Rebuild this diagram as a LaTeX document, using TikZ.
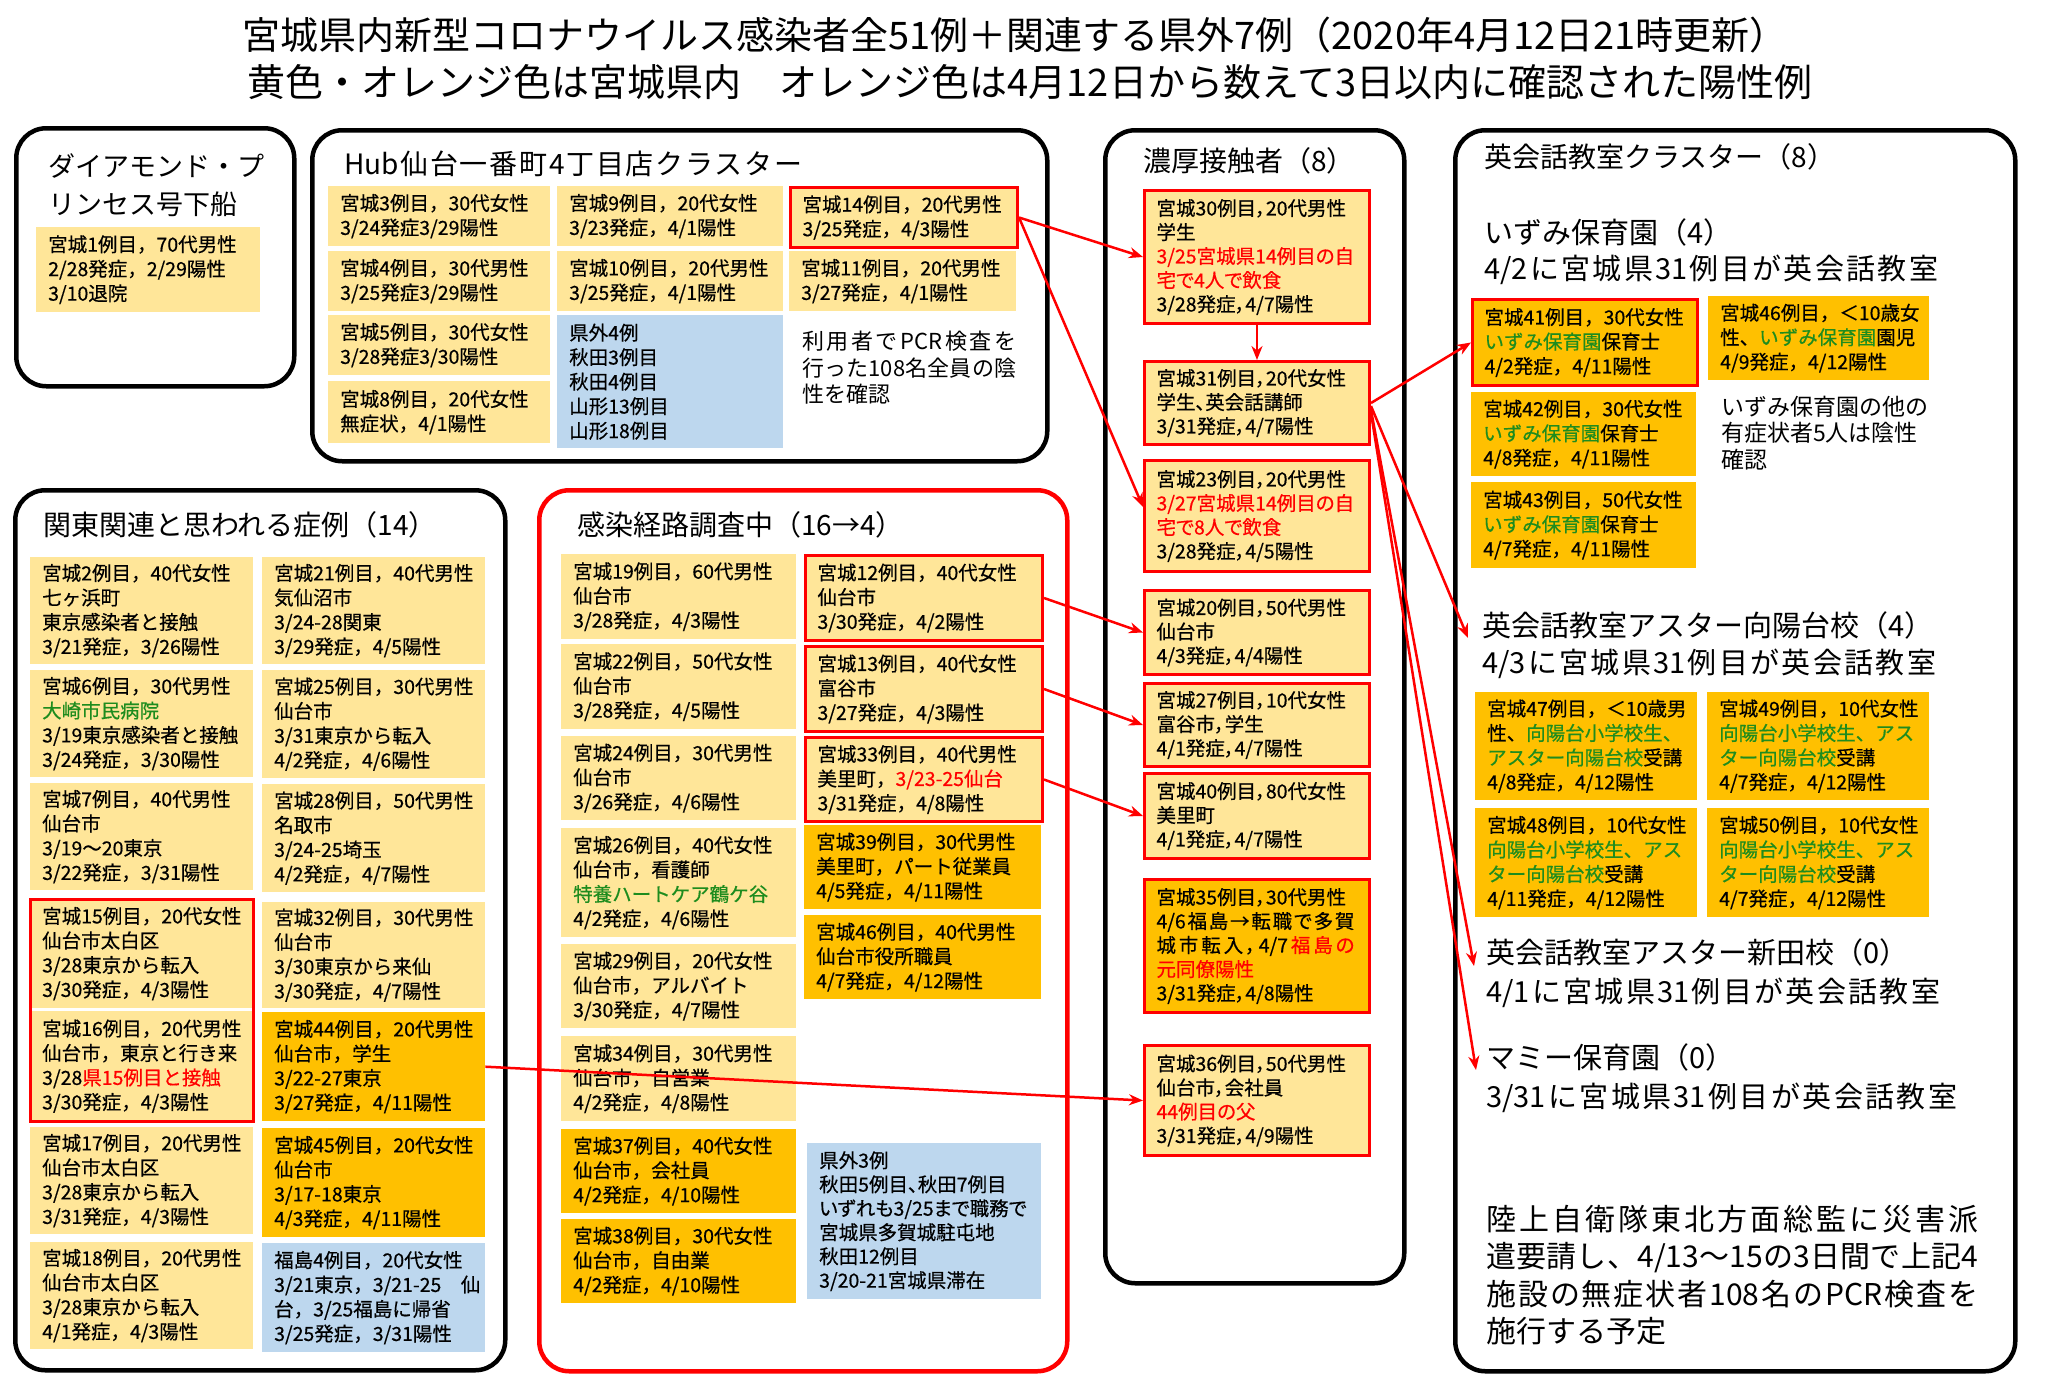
\documentclass[tikz,border=0pt]{standalone}
\usepackage{fontspec}
\setmainfont{Noto Sans CJK JP}
\newfontfamily\cfn[FakeBold=0.5]{Noto Sans CJK JP}
\newfontfamily\cf[RawFeature={+palt},FakeBold=0.5]{Noto Sans CJK JP}
\usetikzlibrary{arrows.meta}
\definecolor{cyel}{HTML}{FFE699}
\definecolor{corg}{HTML}{FFC000}
\definecolor{cblu}{HTML}{BDD7EE}
\definecolor{cgre}{HTML}{1E8C1E}
\definecolor{cred}{HTML}{FF0000}
\makeatletter
\newcommand\spr[2]{\makebox[#1][s]{\@tfor\spr@t:=#2\do{\spr@t\hfil}\unskip}}
\makeatother
\newcommand\cell[7][]{%
  \pgfmathsetmacro\cw{#5-#3}%
  \pgfmathsetmacro\chh{#6-#4}%
  \pgfmathsetmacro\tw{#5-#3-24}%
  \node[cellbase,#1,minimum width=\cw pt,minimum height=\chh pt,text width=\tw pt] (#2) at (#3,#4) {#7};}
\newcommand\ContBox[6][]{%
  \pgfmathsetmacro\cw{#5-#3}%
  \pgfmathsetmacro\chh{#6-#4}%
  \node[outerbox,#1,minimum width=\cw pt,minimum height=\chh pt] (#2) at (#3,#4) {};}
\newcommand\R[1]{\textcolor{cred}{#1}}
\newcommand\G[1]{\textcolor{cgre}{#1}}
\tikzset{
  cellbase/.style={anchor=north west, inner xsep=12pt, inner ysep=0pt, align=left, fill=cyel,
    font=\cfn\fontsize{19.5}{24.5}\selectfont},
  pf/.style={font=\cf\fontsize{19.5}{24}\selectfont},
  orgc/.style={fill=corg},
  bluc/.style={fill=cblu},
  redb/.style={draw=cred, line width=3pt},
  outerbox/.style={draw=black, line width=4.5pt, rounded corners=30pt, anchor=north west, inner sep=0pt},
  hdr/.style={font=\fontsize{28}{34}\selectfont, inner sep=0pt, anchor=west},
  subh/.style={font=\fontsize{29}{36}\selectfont, inner sep=0pt, anchor=west},
  note/.style={font=\fontsize{22}{26.5}\selectfont, inner sep=0pt, anchor=west, align=left},
  ttl/.style={font=\fontsize{38}{46}\selectfont, inner sep=0pt},
  arr/.style={draw=cred, line width=2.5pt, -{Stealth[length=14pt,width=11pt]}}
}
\begin{document}
\begin{tikzpicture}[x=1pt,y=-1pt]
\fill[white] (0,0) rectangle (2048,1389);
\useasboundingbox (0,0) rectangle (2048,1389);
% title
\node[ttl] (t1) at (1015,35) {宮城県内新型コロナウイルス感染者全51例＋関連する県外7例（2020年4月12日21時更新）};
\node[ttl] (t2) at (1030,82) {黄色・オレンジ色は宮城県内　オレンジ色は4月12日から数えて3日以内に確認された陽性例};
% containers
\ContBox{bA}{14}{126}{292}{384}
\ContBox{bB}{310}{128}{1045}{459}
\ContBox{bC}{13}{488}{503}{1368}
\ContBox[draw=cred]{bD}{537}{488}{1065}{1369}
\ContBox{bE}{1103}{128}{1402}{1281}
\ContBox{bF}{1453}{128}{2013}{1369}
% Box A
\node[hdr,align=left,font=\fontsize{27}{38}\selectfont] (hA) at (48,185) {ダイアモンド・プ\\リンセス号下船};
\cell{c1}{36}{227}{260}{312}{宮城1例目，70代男性\\2/28発症，2/29陽性\\3/10退院}
% Box B
\node[hdr] (hB) at (344,164) {\spr{458pt}{{Hub}仙台一番町4丁目店クラスター}};
\cell{c3}{328}{186}{550}{246}{宮城3例目，30代女性\\3/24発症3/29陽性}
\cell{c4}{328}{251}{550}{311}{宮城4例目，30代男性\\3/25発症3/29陽性}
\cell{c5}{328}{315}{550}{375}{宮城5例目，30代女性\\3/28発症3/30陽性}
\cell{c8}{328}{381}{550}{443}{宮城8例目，20代女性\\無症状，4/1陽性}
\cell{c9}{557}{186}{783}{246}{宮城9例目，20代女性\\3/23発症，4/1陽性}
\cell{c10}{557}{251}{783}{311}{宮城10例目，20代男性\\3/25発症，4/1陽性}
\cell[bluc]{hubout}{557}{315}{783}{448}{県外4例\\秋田3例目\\秋田4例目\\山形13例目\\山形18例目}
\cell[redb]{c14}{789}{186}{1016}{246}{宮城14例目，20代男性\\3/25発症，4/3陽性}
\cell{c11}{789}{251}{1016}{311}{宮城11例目，20代男性\\3/27発症，4/1陽性}
\node[note] (nB) at (802,368) {\spr{214pt}{利用者で{PCR}検査を}\\\spr{214pt}{行った{108}名全員の陰}\\性を確認};
% Box C
\node[hdr] (hC) at (43,525) {関東関連と思われる症例（14）};
\cell{c2}{30}{557}{253}{664}{宮城2例目，40代女性\\七ヶ浜町\\東京感染者と接触\\3/21発症，3/26陽性}
\cell{c6}{30}{670}{253}{777}{宮城6例目，30代男性\\\G{大崎市民病院}\\3/19東京感染者と接触\\3/24発症，3/30陽性}
\cell{c7}{30}{783}{253}{890}{宮城7例目，40代男性\\仙台市\\3/19～20東京\\3/22発症，3/31陽性}
\cell{c15}{30}{899}{253}{1008}{宮城15例目，20代女性\\仙台市太白区\\3/28東京から転入\\3/30発症，4/3陽性}
\cell{c16}{30}{1011}{253}{1121}{宮城16例目，20代男性\\仙台市，東京と行き来\\3/28\R{県15例目と接触}\\3/30発症，4/3陽性}
\cell{c17}{30}{1127}{253}{1234}{宮城17例目，20代男性\\仙台市太白区\\3/28東京から転入\\3/31発症，4/3陽性}
\cell{c18}{30}{1242}{253}{1349}{宮城18例目，20代男性\\仙台市太白区\\3/28東京から転入\\4/1発症，4/3陽性}
\cell{c21}{262}{557}{485}{664}{宮城21例目，40代男性\\気仙沼市\\3/24-28関東\\3/29発症，4/5陽性}
\cell{c25}{262}{670}{485}{778}{宮城25例目，30代男性\\仙台市\\3/31東京から転入\\4/2発症，4/6陽性}
\cell{c28}{262}{784}{485}{892}{宮城28例目，50代男性\\名取市\\3/24-25埼玉\\4/2発症，4/7陽性}
\cell{c32}{262}{902}{485}{1008}{宮城32例目，30代男性\\仙台市\\3/30東京から来仙\\3/30発症，4/7陽性}
\cell[orgc]{c44}{262}{1012}{485}{1121}{宮城44例目，20代男性\\仙台市，学生\\3/22-27東京\\3/27発症，4/11陽性}
\cell[orgc]{c45}{262}{1128}{485}{1237}{宮城45例目，20代女性\\仙台市\\3/17-18東京\\4/3発症，4/11陽性}
\cell[bluc]{f4}{262}{1243}{485}{1352}{福島4例目，20代女性\\\spr{197pt}{{3/21}東京，{3/21-25}　仙}\\台，3/25福島に帰省\\3/25発症，3/31陽性}
\draw[redb] (c15.north west) rectangle (c16.south east);
% Box D
\node[hdr] (hD) at (577,525) {感染経路調査中（16→4）};
\cell{c19}{561}{554}{796}{639}{宮城19例目，60代男性\\仙台市\\3/28発症，4/3陽性}
\cell{c22}{561}{644}{796}{729}{宮城22例目，50代女性\\仙台市\\3/28発症，4/5陽性}
\cell{c24}{561}{736}{796}{820}{宮城24例目，30代男性\\仙台市\\3/26発症，4/6陽性}
\cell{c26}{561}{828}{796}{937}{宮城26例目，40代女性\\仙台市，看護師\\\G{特養ハートケア鶴ケ谷}\\4/2発症，4/6陽性}
\cell{c29}{561}{944}{796}{1028}{宮城29例目，20代女性\\仙台市，アルバイト\\3/30発症，4/7陽性}
\cell{c34}{561}{1036}{796}{1121}{宮城34例目，30代男性\\仙台市，自営業\\4/2発症，4/8陽性}
\cell[orgc]{c37}{561}{1129}{796}{1213}{宮城37例目，40代女性\\仙台市，会社員\\4/2発症，4/10陽性}
\cell[orgc]{c38}{561}{1219}{796}{1303}{宮城38例目，30代女性\\仙台市，自由業\\4/2発症，4/10陽性}
\cell[redb]{c12}{804}{554}{1041}{639}{宮城12例目，40代女性\\仙台市\\3/30発症，4/2陽性}
\cell[redb]{c13}{804}{645}{1041}{730}{宮城13例目，40代女性\\富谷市\\3/27発症，4/3陽性}
\cell[redb]{c33}{804}{736}{1041}{820}{宮城33例目，40代男性\\美里町，\R{3/23-25仙台}\\3/31発症，4/8陽性}
\cell[orgc]{c39}{804}{825}{1041}{909}{宮城39例目，30代男性\\美里町，パート従業員\\4/5発症，4/11陽性}
\cell[orgc]{c46}{804}{915}{1041}{999}{宮城46例目，40代男性\\仙台市役所職員\\4/7発症，4/12陽性}
\cell[bluc,pf]{dout}{807}{1143}{1041}{1299}{県外3例\\秋田5例目、秋田7例目\\いずれも3/25まで職務で\\宮城県多賀城駐屯地\\秋田12例目\\3/20-21宮城県滞在}
% Box E
\node[hdr] (hE) at (1143,161) {濃厚接触者（8）};
\cell[redb,pf]{c30}{1143}{189}{1368}{322}{宮城30例目，20代男性\\学生\\\R{3/25宮城県14例目の自}\\\R{宅で4人で飲食}\\3/28発症，4/7陽性}
\cell[redb,pf]{c31}{1143}{360}{1368}{443}{宮城31例目，20代女性\\学生、英会話講師\\3/31発症，4/7陽性}
\cell[redb,pf]{c23}{1143}{459}{1368}{570}{宮城23例目，20代男性\\\R{3/27宮城県14例目の自}\\\R{宅で8人で飲食}\\3/28発症，4/5陽性}
\cell[redb,pf]{c20}{1143}{589}{1368}{673}{宮城20例目，50代男性\\仙台市\\4/3発症，4/4陽性}
\cell[redb,pf]{c27}{1143}{682}{1368}{765}{宮城27例目，10代女性\\富谷市，学生\\4/1発症，4/7陽性}
\cell[redb,pf]{c40}{1143}{772}{1368}{857}{宮城40例目，80代女性\\美里町\\4/1発症，4/7陽性}
\cell[redb,orgc,pf]{c35}{1143}{878}{1368}{1011}{宮城35例目，30代男性\\\spr{198pt}{{4/6}福島→転職で多賀}\\\spr{198pt}{城市転入，{4/7}{\color{cred}福}島の}\\\R{元同僚陽性}\\3/31発症，4/8陽性}
\cell[redb,pf]{c36}{1143}{1044}{1368}{1154}{宮城36例目，50代男性\\仙台市，会社員\\\R{44例目の父}\\3/31発症，4/9陽性}
% Box F
\node[hdr] (hF) at (1484,157) {英会話教室クラスター（8）};
\node[subh] (s1) at (1484,232) {いずみ保育園（4）};
\node[subh] (s1b) at (1484,270) {\spr{454pt}{{4/2}に宮城県{31}例目が英会話教室}};
\cell[orgc,redb]{c41}{1471}{298}{1696}{384}{宮城41例目，30代女性\\\G{いずみ保育園}保育士\\4/2発症，4/11陽性}
\cell[orgc]{c46b}{1708}{296}{1929}{380}{宮城46例目，＜10歳女\\性、\G{いずみ保育園}園児\\4/9発症，4/12陽性}
\cell[orgc]{c42}{1471}{392}{1696}{476}{宮城42例目，30代女性\\\G{いずみ保育園}保育士\\4/8発症，4/11陽性}
\cell[orgc]{c43}{1471}{482}{1696}{568}{宮城43例目，50代女性\\\G{いずみ保育園}保育士\\4/7発症，4/11陽性}
\node[note,font=\fontsize{23}{26.5}\selectfont] (nF) at (1721,433) {いずみ保育園の他の\\有症状者5人は陰性\\確認};
\node[subh] (s2) at (1482,625) {英会話教室アスター向陽台校（4）};
\node[subh] (s2b) at (1482,664) {\spr{454pt}{{4/3}に宮城県{31}例目が英会話教室}};
\cell[orgc]{c47}{1475}{692}{1697}{800}{宮城47例目，＜10歳男\\性、\G{向陽台小学校生、}\\\G{アスター向陽台校}受講\\4/8発症，4/12陽性}
\cell[orgc]{c49}{1707}{692}{1929}{800}{宮城49例目，10代女性\\\G{向陽台小学校生、アス}\\\G{ター向陽台校}受講\\4/7発症，4/12陽性}
\cell[orgc]{c48}{1475}{808}{1697}{917}{宮城48例目，10代女性\\\G{向陽台小学校生、アス}\\\G{ター向陽台校}受講\\4/11発症，4/12陽性}
\cell[orgc]{c50}{1707}{808}{1929}{917}{宮城50例目，10代女性\\\G{向陽台小学校生、アス}\\\G{ター向陽台校}受講\\4/7発症，4/12陽性}
\node[subh] (s3) at (1486,952) {英会話教室アスター新田校（0）};
\node[subh] (s3b) at (1486,993) {\spr{454pt}{{4/1}に宮城県{31}例目が英会話教室}};
\node[subh] (s4) at (1486,1057) {マミー保育園（0）};
\node[subh] (s4b) at (1486,1098) {\spr{471pt}{{3/31}に宮城県{31}例目が英会話教室}};
\node[note,font=\fontsize{30}{37.5}\selectfont] (nF2) at (1486,1275) {\spr{492pt}{陸上自衛隊東北方面総監に災害派}\\\spr{492pt}{遣要請し、{4/13}～{15}の3日間で上記4}\\\spr{492pt}{施設の無症状者{108}名の{PCR}検査を}\\施行する予定};
% connectors
\coordinate (t2) at (1468,638);
\coordinate (t3) at (1474,966);
\coordinate (t4) at (1476,1070);
\draw[arr] (c14.east) -- (c30.west);
\draw[arr] (c14.east) -- ([yshift=9pt]c23.west);
\draw[arr] (c30.south) -- (c31.north);
\draw[arr] (c31.east) -- (c41.west);
\draw[arr] ([yshift=-3pt]c31.east) -- (t2);
\draw[arr] ([yshift=-7pt]c31.east) -- (t3);
\draw[arr] ([yshift=-10pt]c31.east) -- (t4);
\draw[arr] (c12.east) -- (c20.west);
\draw[arr] (c13.east) -- (c27.west);
\draw[arr] (c33.east) -- (c40.west);
\draw[arr] (c44.east) -- (c36.west);
\end{tikzpicture}
\end{document}
